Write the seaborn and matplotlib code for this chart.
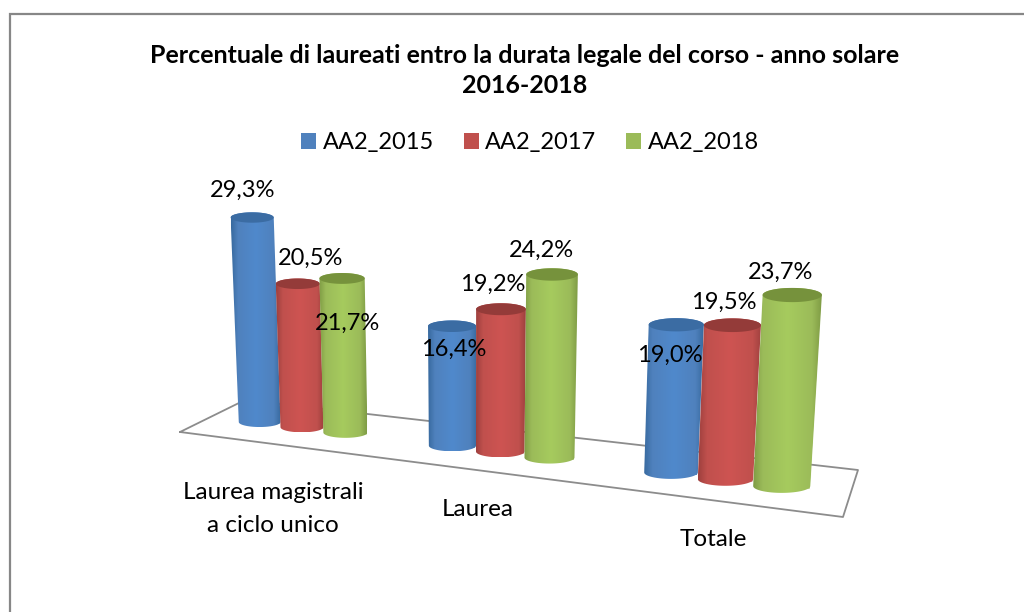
import numpy as np
import pandas as pd
import matplotlib
matplotlib.use("Agg")
import matplotlib.pyplot as plt
import seaborn as sns
from matplotlib.colors import LinearSegmentedColormap
from matplotlib.patches import Patch, PathPatch
from matplotlib.path import Path
from matplotlib.transforms import Transform

# Dati
corsi = ['Laurea magistrali\na ciclo unico', 'Laurea', 'Totale']
anni = ['AA2_2015', 'AA2_2017', 'AA2_2018']
aa2_2015 = [29.3, 16.4, 19.0]
aa2_2017 = [20.5, 19.2, 19.5]
aa2_2018 = [21.7, 24.2, 23.7]
titolo = 'Percentuale di laureati entro la durata legale del corso - anno solare\n2016-2018'

# Colori: base, bordo scuro, centro chiaro, tappo
colori = ['#4F81BD', '#C0504D', '#9BBB59']
scuri = ['#386A9F', '#9E403E', '#7F9C45']
chiari = ['#5089CC', '#CE5452', '#A6CB5E']
tappi = ['#3B6CA3', '#943B39', '#76923C']

# Posizione delle etichette in pixel dell'immagine (anno, corso)
pos_etichette = [[(243, 190), (454, 349), (670, 355)],
                 [(311, 258), (493, 284), (724, 302)],
                 [(348, 323), (541, 250), (781, 272)]]
pos_corsi = [(273, 509), (478, 510), (713, 539)]

LARGHEZZA = 0.69
CAL_DATI = [(-LARGHEZZA / 3, 0), (-LARGHEZZA / 3, 29.3), (2 + LARGHEZZA / 3, 0), (2 + LARGHEZZA / 3, 23.7)]
CAL_PIXEL = [(259.5, 422), (252, 217.5), (781.5, 486), (792, 295)]


class Prospettiva(Transform):
    # omografia dalle coordinate dati (categoria, valore) ai pixel
    input_dims = 2
    output_dims = 2

    def __init__(self, src, dst):
        super().__init__()
        A, b = [], []
        for (x, y), (u, v) in zip(src, dst):
            A.append([x, y, 1, 0, 0, 0, -u * x, -u * y])
            A.append([0, 0, 0, x, y, 1, -v * x, -v * y])
            b += [u, v]
        self.H = np.append(np.linalg.solve(np.array(A, float), np.array(b, float)), 1).reshape(3, 3)

    def transform_non_affine(self, values):
        values = np.asarray(values, float)
        p = np.column_stack([values, np.ones(len(values))]) @ self.H.T
        return p[:, :2] / p[:, 2:]


df = pd.DataFrame({
    'corso': corsi * 3,
    'anno': np.repeat(anni, 3),
    'valore': aa2_2015 + aa2_2017 + aa2_2018,
})

sns.set_theme(style='white')
plt.rcParams['font.family'] = ['Lato', 'DejaVu Sans']

fig = plt.figure(figsize=(10.24, 6.12), dpi=100)
ax = fig.add_axes([0, 0, 1, 1], zorder=0)
canvas = fig.add_axes([0, 0, 1, 1], zorder=1)
canvas.patch.set_alpha(0)

sns.barplot(data=df, x='corso', y='valore', hue='anno', order=corsi, hue_order=anni,
            palette=colori, width=LARGHEZZA, gap=0, saturation=1, legend=False, ax=ax)
ax.set_axis_off()

canvas.set_xlim(0, 1024)
canvas.set_ylim(612, 0)
canvas.set_axis_off()

prosp = Prospettiva(CAL_DATI, CAL_PIXEL)

# Cornice e pavimento
canvas.plot([10, 10, 1024], [612, 13.5, 13.5], color='#878787', lw=1.6, zorder=1, solid_joinstyle='miter')
canvas.plot([180, 245, 858, 843, 180], [432, 400, 470, 517, 432], color='#8C8C8C', lw=1.3, zorder=1)


def arco(cx, cy, a, b, t0, t1, n=40):
    t = np.linspace(t0, t1, n)
    return np.column_stack([cx + a * np.cos(t), cy + b * np.sin(t)])


# Cilindri costruiti dalle barre di seaborn
z = 2
for i_corso in range(len(corsi)):
    for i_anno, cont in enumerate(ax.containers):
        bar = cont[i_corso]
        bar.set_transform(prosp + canvas.transData)
        bar.set_clip_on(False)
        x0, x1, h = bar.get_x(), bar.get_x() + bar.get_width(), bar.get_height()
        (bl, br, tl, tr) = prosp.transform_non_affine(np.array([(x0, 0), (x1, 0), (x0, h), (x1, h)]))
        a_top, a_bot = (tr[0] - tl[0]) / 2, (br[0] - bl[0]) / 2
        ctx, cty = (tl + tr) / 2
        cbx, cby = (bl + br) / 2
        b_top, b_bot = a_top * 0.24, a_bot * 0.24
        # contorno: arco alto del tappo da sinistra a destra, arco basso del fondo da destra a sinistra
        vert = np.vstack([arco(ctx, cty, a_top, b_top, np.pi, 2 * np.pi),
                          arco(cbx, cby, a_bot, b_bot, 0, np.pi)])
        corpo = PathPatch(Path(np.vstack([vert, vert[0]])), fc='none', ec='none', transform=canvas.transData)
        canvas.add_patch(corpo)
        cmap = LinearSegmentedColormap.from_list('c', [(0, scuri[i_anno]), (0.14, colori[i_anno]),
                                                       (0.5, chiari[i_anno]), (0.86, colori[i_anno]),
                                                       (1, scuri[i_anno])])
        xmin, xmax = vert[:, 0].min(), vert[:, 0].max()
        ymin, ymax = vert[:, 1].min(), vert[:, 1].max()
        im = canvas.imshow(np.linspace(0, 1, 128)[None, :], cmap=cmap, aspect='auto',
                           extent=[xmin, xmax, ymax, ymin], zorder=z)
        im.set_clip_path(corpo)
        tappo = arco(ctx, cty, a_top, b_top, 0, 2 * np.pi, 80)
        canvas.fill(tappo[:, 0], tappo[:, 1], color=tappi[i_anno], lw=0, zorder=z + 0.5)
        z += 1

canvas.set_xlim(0, 1024)
canvas.set_ylim(612, 0)

# Etichette dei valori
for i_anno, cont in enumerate(ax.containers):
    for i_corso, bar in enumerate(cont):
        testo = f'{bar.get_height():.1f}%'.replace('.', ',')
        px, py = pos_etichette[i_anno][i_corso]
        canvas.text(px, py, testo, ha='center', va='center', fontsize=17, color='black', zorder=50)

# Etichette delle categorie
for nome, (px, py) in zip(corsi, pos_corsi):
    canvas.text(px, py, nome, ha='center', va='center', fontsize=17.5, color='black',
                linespacing=1.65, zorder=50)

canvas.text(524.5, 70.5, titolo, ha='center', va='center', fontsize=18, fontweight='bold',
            color='black', linespacing=1.32, zorder=50)

# Legenda
maniglie = [Patch(facecolor=c, edgecolor='none', label=a) for c, a in zip(colori, anni)]
canvas.legend(handles=maniglie, ncol=3, frameon=False, fontsize=17, loc='center',
              bbox_to_anchor=(530, 143), bbox_transform=canvas.transData,
              handlelength=0.64, handleheight=0.64, handletextpad=0.28, columnspacing=1.25,
              labelcolor='black')

fig.savefig('out.png', dpi=100)
